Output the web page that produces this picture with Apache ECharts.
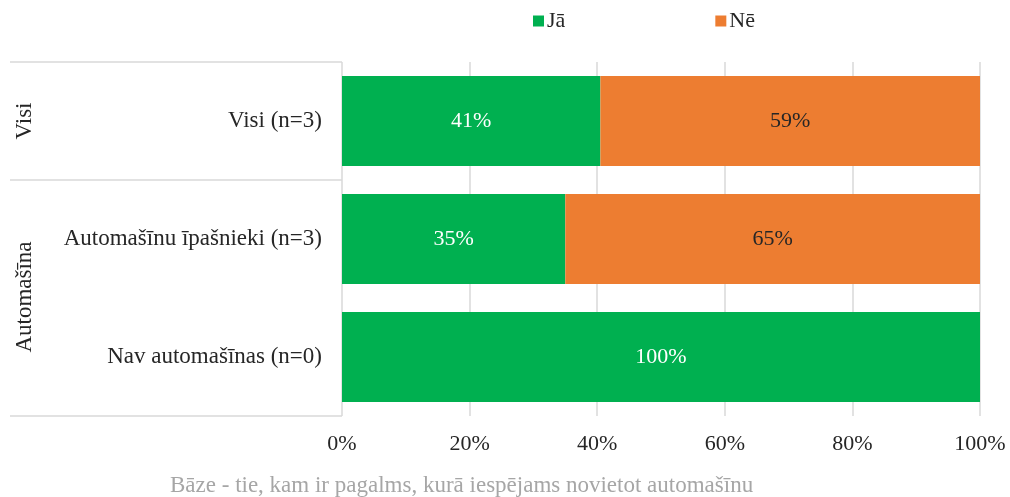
<!DOCTYPE html>
<html>
<head>
<meta charset="utf-8">
<script src="https://cdn.jsdelivr.net/npm/echarts@6/dist/echarts.min.js"></script>
<style>
  html, body { margin: 0; padding: 0; background: #fff; }
  #chart { width: 1010px; height: 497px; }
</style>
</head>
<body>
<div id="chart"></div>
<script>
// data
var categories = ['Visi (n=3)', 'Automašīnu īpašnieki (n=3)', 'Nav automašīnas (n=0)'];
var jaValues = [40.5, 35, 100];
var neValues = [59.5, 65, 0];
var jaLabels = ['41%', '35%', '100%'];
var neLabels = ['59%', '65%', ''];
var xTicks = [0, 20, 40, 60, 80, 100];

var FONT = '"Liberation Serif", "Times New Roman", serif';
var chart = echarts.init(document.getElementById('chart'));

var options = {
  animation: false,
  textStyle: { fontFamily: FONT },
  color: ['#00B050', '#ED7D31'],
  legend: {
    top: 5,
    left: 528,
    itemWidth: 11,
    itemHeight: 11,
    itemGap: 150,
    icon: 'rect',
    textStyle: { fontFamily: FONT, fontSize: 22, color: '#262626', padding: [0, 0, 0, -2] },
    data: ['Jā', 'Nē']
  },
  grid: {
    left: 342,
    right: 30,
    top: 62,
    bottom: 81,
    containLabel: false
  },
  xAxis: {
    type: 'value',
    min: 0,
    max: 100,
    interval: 20,
    axisLine: { show: false },
    axisTick: { show: false },
    splitLine: { show: true, lineStyle: { color: '#d9d9d9', width: 1.5 } },
    axisLabel: {
      margin: 17,
      fontFamily: FONT,
      fontSize: 22,
      color: '#262626',
      formatter: function (v) { return v + '%'; }
    }
  },
  yAxis: {
    type: 'category',
    inverse: true,
    data: categories,
    axisLine: { show: false },
    axisTick: { show: false },
    axisLabel: { margin: 20, fontFamily: FONT, fontSize: 23, color: '#262626' }
  },
  series: [
    {
      name: 'Jā',
      type: 'bar',
      stack: 'total',
      barWidth: 90,
      data: jaValues,
      label: {
        show: true,
        position: 'inside',
        fontFamily: FONT,
        fontSize: 22,
        color: '#ffffff',
        formatter: function (p) { return jaLabels[p.dataIndex]; }
      }
    },
    {
      name: 'Nē',
      type: 'bar',
      stack: 'total',
      barWidth: 90,
      data: neValues,
      label: {
        show: true,
        position: 'inside',
        fontFamily: FONT,
        fontSize: 22,
        color: '#262626',
        formatter: function (p) { return neLabels[p.dataIndex]; }
      }
    }
  ],
  graphic: [
    { type: 'line', shape: { x1: 10, y1: 62, x2: 342, y2: 62 }, style: { stroke: '#d9d9d9', lineWidth: 1.5 } },
    { type: 'line', shape: { x1: 10, y1: 180, x2: 342, y2: 180 }, style: { stroke: '#d9d9d9', lineWidth: 1.5 } },
    { type: 'line', shape: { x1: 10, y1: 416, x2: 342, y2: 416 }, style: { stroke: '#d9d9d9', lineWidth: 1.5 } },
    {
      type: 'text', x: 25, y: 121, rotation: Math.PI / 2,
      style: { text: 'Visi', font: '23px ' + FONT, fill: '#262626', align: 'center', verticalAlign: 'middle' }
    },
    {
      type: 'text', x: 25, y: 297, rotation: Math.PI / 2,
      style: { text: 'Automašīna', font: '23px ' + FONT, fill: '#262626', align: 'center', verticalAlign: 'middle' }
    },
    {
      type: 'text', left: 170, top: 474,
      style: { text: 'Bāze - tie, kam ir pagalms, kurā iespējams novietot automašīnu', font: '23px ' + FONT, fill: '#a6a6a6' }
    }
  ]
};

chart.setOption(options);
window.addEventListener('resize', function () { chart.resize(); });
</script>
</body>
</html>
